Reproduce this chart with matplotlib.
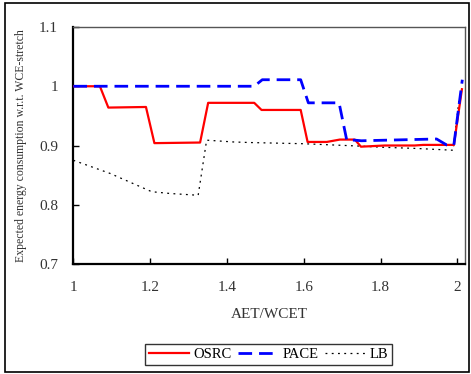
import numpy as np
import matplotlib.pyplot as plt
from matplotlib.patches import Rectangle

plt.rcParams['font.family'] = ['Liberation Serif', 'DejaVu Serif']

# OSRC
x_osrc = [1.0, 1.069, 1.091, 1.189, 1.211, 1.33, 1.351, 1.471, 1.49, 1.592,
          1.61, 1.66, 1.694, 1.733, 1.749, 1.811, 1.889, 1.911, 1.991, 2.012]
y_osrc = [1.0, 1.0, 0.964, 0.965, 0.904, 0.905, 0.972, 0.972, 0.960, 0.960,
          0.906, 0.906, 0.910, 0.910, 0.898, 0.900, 0.900, 0.901, 0.901, 0.995]

# PACE
x_pace = [1.0, 1.471, 1.492, 1.592, 1.612, 1.692, 1.712, 1.733, 1.75,
          1.946, 1.972, 1.991, 2.013]
y_pace = [1.0, 1.0, 1.011, 1.011, 0.972, 0.972, 0.909, 0.909, 0.908,
          0.911, 0.901, 0.901, 1.011]

# LB
x_lb = [1.0, 1.095, 1.204, 1.252, 1.325, 1.347, 1.416, 1.46, 1.599, 1.746,
        1.807, 1.894, 1.989, 2.005]
y_lb = [0.875, 0.853, 0.822, 0.819, 0.816, 0.909, 0.906, 0.905, 0.903, 0.899,
        0.897, 0.895, 0.892, 0.98]

fig = plt.figure(figsize=(4.71, 3.74), dpi=100)
ax = fig.add_axes([73.4 / 471, 1 - 264 / 374, (465 - 73.4) / 471, (264 - 27) / 374])

ax.plot(x_osrc, y_osrc, color='red', lw=1.6, label='OSRC', zorder=3)
ax.plot(x_pace, y_pace, color='blue', lw=2.0, dashes=(4.9, 2.5), label='PACE', zorder=4)
ax.plot(x_lb, y_lb, color='black', lw=0.9, ls=(0, (1.5, 3.5)), label='LB', zorder=2)

ax.set_xlim(1, 2.02)
ax.set_ylim(0.7, 1.1)
ax.set_xticks([1, 1.2, 1.4, 1.6, 1.8, 2])
ax.set_xticklabels(['1', '1.2', '1.4', '1.6', '1.8', '2'])
ax.set_yticks([0.7, 0.8, 0.9, 1.0, 1.1])
ax.set_yticklabels(['0.7', '0.8', '0.9', '1', '1.1'])
ax.tick_params(direction='in', length=4, width=1, labelsize=11, colors='black',
               labelcolor='#333333')
ax.tick_params(axis='x', pad=12)
ax.tick_params(axis='y', pad=11)

for s in ['left', 'bottom']:
    ax.spines[s].set_linewidth(1.6)
    ax.spines[s].set_color('black')
for s in ['top', 'right']:
    ax.spines[s].set_linewidth(1.0)
    ax.spines[s].set_color('#555555')

ax.set_xlabel('AET/WCET', fontsize=11, color='#333333', labelpad=10)
ax.set_ylabel('Expected energy consumption w.r.t. WCE-stretch', fontsize=8.5,
              color='#333333', labelpad=9)

leg = fig.legend(loc='center', bbox_to_anchor=(268.7 / 471, 1 - 354.5 / 374), ncol=3,
                 fontsize=10.5, frameon=True, fancybox=False, handlelength=2.75,
                 handletextpad=0.3, columnspacing=0.45, borderpad=0.25,
                 borderaxespad=0)
leg.get_frame().set_edgecolor('black')
leg.get_frame().set_linewidth(1.0)

# outer frame around the whole figure
fig.patches.append(Rectangle((5 / 471, 1 - 372 / 374), 464 / 471, 369 / 374,
                             transform=fig.transFigure, fill=False,
                             edgecolor='black', lw=1.2))

fig.savefig('out.png', dpi=100)
